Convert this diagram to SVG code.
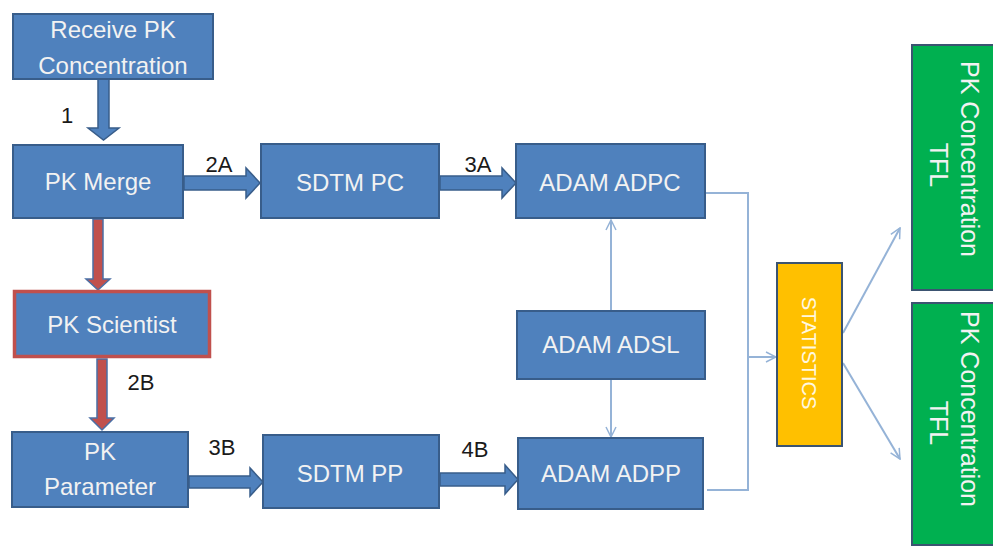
<svg xmlns="http://www.w3.org/2000/svg" width="993" height="548" viewBox="0 0 993 548">
<style>
.box{fill:#4F81BD;stroke:#385D8A;stroke-width:2}
.t{font-family:"Liberation Sans",Arial,sans-serif;font-size:24px;fill:#F2F2F2;text-anchor:middle}
.lbl{font-family:"Liberation Sans",Arial,sans-serif;font-size:22px;fill:#1a1a1a;text-anchor:middle}
.barrow{fill:#4F81BD;stroke:#385D8A;stroke-width:1.5}
.rarrow{fill:#C0504D;stroke:#4A6FA5;stroke-width:1.5}
.con{fill:none;stroke:#95B3D7;stroke-width:2}
.vt{font-family:"Liberation Sans",Arial,sans-serif;text-anchor:middle}
</style>
<defs>
<marker id="open" viewBox="0 0 12 12" refX="11" refY="6" markerWidth="12" markerHeight="12" markerUnits="userSpaceOnUse" orient="auto">
<path d="M1,1 L11,6 L1,11" fill="none" stroke="#95B3D7" stroke-width="1.5"/>
</marker>
</defs>
<rect width="993" height="548" fill="#FFFFFF"/>

<g id="connectors">
<path class="barrow" d="M98,79 H109 V128 H119 L103.5,140 L88,128 H98 Z"/>
<path class="rarrow" d="M93,219 H103 V279 H110 L98,290 L86,279 H93 Z"/>
<path class="rarrow" d="M97,359 H107 V418 H114 L102,430 L90,418 H97 Z"/>
<path class="barrow" d="M184,176 H246 V168 L260,183 L246,198 V190 H184 Z"/>
<path class="barrow" d="M440,176 H502 V168 L516,183 L502,198 V190 H440 Z"/>
<path class="barrow" d="M189,476 H250 V468 L263,482 L250,496 V488 H189 Z"/>
<path class="barrow" d="M440,473 H505 V465 L518,479.5 L505,494 V486 H440 Z"/>
<line class="con" x1="611" y1="311" x2="611" y2="220" marker-end="url(#open)"/>
<line class="con" x1="611" y1="380" x2="611" y2="437" marker-end="url(#open)"/>
<path class="con" d="M706,193 H748 V490 H707"/>
<line class="con" x1="748" y1="357" x2="776" y2="357" marker-end="url(#open)"/>
<line class="con" x1="843" y1="333" x2="900" y2="228" marker-end="url(#open)"/>
<line class="con" x1="843" y1="363" x2="900" y2="459" marker-end="url(#open)"/>
<text class="lbl" x="67" y="123">1</text>
<text class="lbl" x="219" y="172">2A</text>
<text class="lbl" x="478" y="172">3A</text>
<text class="lbl" x="141" y="390">2B</text>
<text class="lbl" x="222" y="455">3B</text>
<text class="lbl" x="475" y="457">4B</text>
</g>

<g id="receive">
<rect class="box" x="13" y="14" width="200" height="65"/>
<text class="t" x="113" y="38">Receive PK</text>
<text class="t" x="113" y="74">Concentration</text>
</g>
<g id="pkmerge">
<rect class="box" x="13" y="145" width="170" height="73"/>
<text class="t" x="98" y="190">PK Merge</text>
</g>
<g id="sdtmpc">
<rect class="box" x="261" y="144" width="178" height="74"/>
<text class="t" x="350" y="191">SDTM PC</text>
</g>
<g id="adpc">
<rect class="box" x="516" y="144" width="189" height="74"/>
<text class="t" x="610" y="191">ADAM ADPC</text>
</g>
<g id="pkscientist">
<rect x="14.5" y="291.5" width="195" height="65" fill="#4F81BD" stroke="#C0504D" stroke-width="3.5"/>
<text class="t" x="112" y="333">PK Scientist</text>
</g>
<g id="adsl">
<rect class="box" x="517" y="311" width="188" height="68"/>
<text class="t" x="611" y="353">ADAM ADSL</text>
</g>
<g id="pkparam">
<rect class="box" x="12" y="432" width="176" height="75"/>
<text class="t" x="100" y="460">PK</text>
<text class="t" x="100" y="495">Parameter</text>
</g>
<g id="sdtmpp">
<rect class="box" x="263" y="435" width="176" height="73"/>
<text class="t" x="350" y="482">SDTM PP</text>
</g>
<g id="adpp">
<rect class="box" x="518" y="438" width="185" height="71"/>
<text class="t" x="611" y="482">ADAM ADPP</text>
</g>
<g id="statistics">
<rect x="777" y="263" width="65" height="183" fill="#FFC000" stroke="#3B5471" stroke-width="2"/>
<text class="vt" transform="translate(802,353) rotate(90)" font-size="20" fill="#FFF8E0">STATISTICS</text>
</g>
<g id="tfl1">
<rect x="912" y="45" width="90" height="245" fill="#00B050" stroke="#3B5471" stroke-width="2"/>
<text class="vt" transform="translate(961,159) rotate(90)" font-size="25" fill="#F2F2F2">PK Concentration</text>
<text class="vt" transform="translate(930,165) rotate(90)" font-size="25" fill="#F2F2F2">TFL</text>
</g>
<g id="tfl2">
<rect x="912" y="303" width="90" height="242" fill="#00B050" stroke="#3B5471" stroke-width="2"/>
<text class="vt" transform="translate(961,409) rotate(90)" font-size="25" fill="#F2F2F2">PK Concentration</text>
<text class="vt" transform="translate(930,423) rotate(90)" font-size="25" fill="#F2F2F2">TFL</text>
</g>
</svg>
